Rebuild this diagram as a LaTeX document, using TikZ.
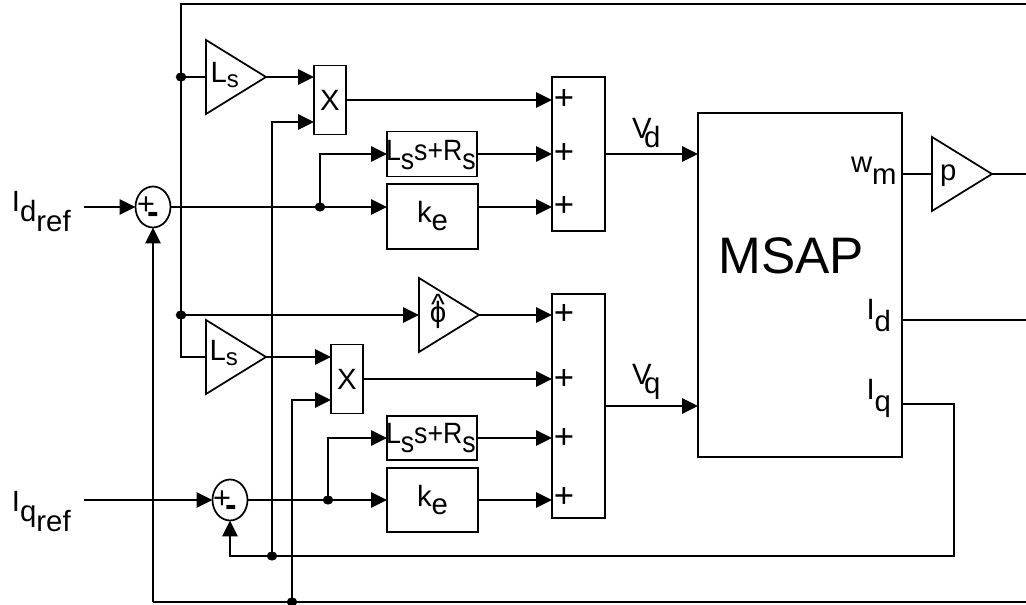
\documentclass[tikz,border=0pt]{standalone}
\usepackage{fontspec}
\setmainfont{Liberation Sans}
\usetikzlibrary{arrows.meta, shapes.geometric}
\newcommand{\lowsub}[2][6.75pt]{\raisebox{-#1}{#2}}
\newcommand{\gainsub}[1]{\lowsub[3.5pt]{\fontsize{18}{18}\selectfont #1}}
\tikzset{
  lbl/.style={inner sep=0pt, outer sep=0pt, font=\fontsize{22}{24}\selectfont},
  baselbl/.style={lbl, anchor=base west},
  sign/.style={inner sep=0pt, font=\fontsize{26}{26}\selectfont},
  smallsign/.style={inner sep=0pt, font=\fontsize{23}{24}\selectfont},
  minussign/.style={inner sep=0pt, font=\fontsize{26}{26}\bfseries},
  block/.style={draw, inner sep=0pt, outer sep=0pt},
  gain/.style={draw, isosceles triangle, isosceles triangle stretches, anchor=lower side,
    minimum width=55.5pt, minimum height=45pt, inner sep=0pt, outer sep=0pt},
  sumj/.style={draw, ellipse, minimum width=26.25pt, minimum height=30.75pt, inner sep=0pt, outer sep=0pt},
  dot/.style={draw, fill, ellipse, minimum width=6.5pt, minimum height=5.5pt, inner sep=0pt, outer sep=0pt}
}
\begin{document}
\begin{tikzpicture}[x=0.75pt, y=-0.75pt, line width=1.3pt, >={Triangle[length=12pt,width=11.5pt]}]
  \useasboundingbox (0,0) rectangle (1026,605);
  \node[gain] (gainLd) at (206,77) {};
  \node[gain] (gainLq) at (206,357) {};
  \node[gain] (gainphi) at (419,315) {};
  \node[gain] (gainp) at (932,174) {};
  \node[block, minimum width=24pt, minimum height=51.75pt, lbl] (xd) at (330,100) {X};
  \node[block, minimum width=24pt, minimum height=51.75pt, lbl] (xq) at (347,379) {X};
  \node[block, minimum width=67.5pt, minimum height=33.75pt] (rld) at (432,154) {};
  \node[block, minimum width=67.5pt, minimum height=33pt] (rlq) at (432,438) {};
  \node[block, minimum width=68.25pt, minimum height=48.75pt] (ked) at (432.5,216.5) {};
  \node[block, minimum width=68.25pt, minimum height=48pt] (keq) at (432.5,500) {};
  \node[block, minimum width=39.75pt, minimum height=115.5pt] (addd) at (578.5,154) {};
  \node[block, minimum width=39.75pt, minimum height=168pt] (addq) at (578.5,406) {};
  \node[block, line width=2pt, minimum width=153pt, minimum height=258pt] (msap) at (800,285) {};
  \node[sumj] (sumd) at (153,207) {};
  \node[sumj] (sumq) at (230,500) {};

  \node[dot] (jtop) at (181,77) {};
  \node[dot] (jmid) at (181,315) {};
  \node[dot] (jd) at (320,207) {};
  \node[dot] (jq) at (328,500) {};
  \node[dot] (jiq) at (272,556) {};
  \node[dot] (jid) at (292,602) {};

  \coordinate (idin) at (84,207);
  \coordinate (iqin) at (84,500);
  \coordinate (wout) at (1026,174);
  \coordinate (idout) at (1026,320);
  \coordinate (cornertop) at (1026,4);
  \coordinate (cornerbot) at (1026,602);
  \coordinate (cornerfb) at (153,602);
  \coordinate (iqport) at (902,404);
  \coordinate (iqturn) at (954,404);
  \coordinate (xdin) at (314,122);
  \coordinate (xqin) at (331,400);

  \draw (cornertop) -| (jtop) -- (jmid) |- (gainLq.lower side);
  \draw (jtop) -- (gainLd.lower side);
  \draw[->] (jmid) -- (gainphi.lower side);
  \draw[->] (gainLd.apex) -- (xd.west |- gainLd.apex);
  \draw[->] (gainLq.apex) -- (xq.west |- gainLq.apex);
  \draw[->] (jiq) |- (xdin);
  \draw[->] (jid) |- (xqin);
  \draw[->] (idin) -- (sumd.west);
  \draw[->] (iqin) -- (sumq.west);
  \draw (sumd.east) -- (jd);
  \draw (sumq.east) -- (jq);
  \draw[->] (jd) -- (ked.west |- jd);
  \draw[->] (jq) -- (keq.west |- jq);
  \draw[->] (jd) |- (rld.west);
  \draw[->] (jq) |- (rlq.west);
  \draw[->] (xd.east) -- (addd.west |- xd.east);
  \draw[->] (rld.east) -- (addd.west |- rld.east);
  \draw[->] (ked.east |- jd) -- (addd.west |- jd);
  \draw[->] (gainphi.apex) -- (addq.west |- gainphi.apex);
  \draw[->] (xq.east) -- (addq.west |- xq.east);
  \draw[->] (rlq.east) -- (addq.west |- rlq.east);
  \draw[->] (keq.east) -- (addq.west |- keq.east);
  \draw[->] (addd.east) -- (msap.west |- addd.east);
  \draw[->] (addq.east) -- (msap.west |- addq.east);
  \draw (msap.east |- gainp.lower side) -- (gainp.lower side);
  \draw (gainp.apex) -- (wout);
  \draw (msap.east |- idout) -- (idout);
  \draw (iqport) -- (iqturn) |- (jiq);
  \draw[->] (jiq) -| (sumq.south);
  \draw (cornerbot) -- (cornerfb);
  \draw[->] (cornerfb) -- (sumd.south);

  \node[smallsign] (sdplus) at (146,206) {+};
  \node[minussign] (sdminus) at (153,218) {-};
  \node[smallsign] (sqplus) at (222,500) {+};
  \node[minussign] (sqminus) at (231,511) {-};
  \foreach \ya/\na in {100/a,153.5/b,207/c} {\node[sign] (pd\na) at (564,\ya) {+};}
  \foreach \ya/\na in {315/a,379/b,438/c,497/d} {\node[sign] (pq\na) at (564,\ya) {+};}

  \node[baselbl] (lblLd) at (210.5,83) {L\gainsub{s}};
  \node[baselbl] (lblLq) at (209.5,360.5) {L\gainsub{s}};
  \node[lbl, anchor=base] (lblphi) at (438,323) {\ooalign{ϕ\cr\hidewidth\raisebox{6pt}{\^{}}\hidewidth\cr}};
  \node[baselbl] (lblp) at (940,181) {p};
  \node[baselbl] (lblrld) at (386,161) {\scalebox{.91}[1]{L\lowsub{s}s+R\lowsub{s}}};
  \node[baselbl] (lblrlq) at (386,444) {\scalebox{.91}[1]{L\lowsub{s}s+R\lowsub{s}}};
  \node[baselbl] (lblked) at (417,223) {k\lowsub[6pt]{e}};
  \node[baselbl] (lblkeq) at (417,506.5) {k\lowsub[6pt]{e}};
  \node[baselbl] (lblidref) at (12,212) {I\raisebox{-7.5pt}{d\raisebox{-7.5pt}{ref}}};
  \node[baselbl] (lbliqref) at (12,512) {I\raisebox{-7.5pt}{q\raisebox{-7.5pt}{ref}}};
  \node[baselbl] (lblvd) at (632,139) {V\hspace{-5.5pt}\lowsub{d}};
  \node[baselbl] (lblvq) at (632,385) {V\hspace{-5.5pt}\lowsub{q}};
  \node[lbl, font=\fontsize{38.5}{42}\selectfont] (lblmsap) at (791,256) {MSAP};
  \node[baselbl] (lblw) at (851,173) {w\raisebox{-9pt}{m}};
  \node[baselbl] (lblid) at (866.5,320) {I\raisebox{-9pt}{d}};
  \node[baselbl] (lbliq) at (866.5,400) {I\raisebox{-9pt}{q}};
\end{tikzpicture}
\end{document}
